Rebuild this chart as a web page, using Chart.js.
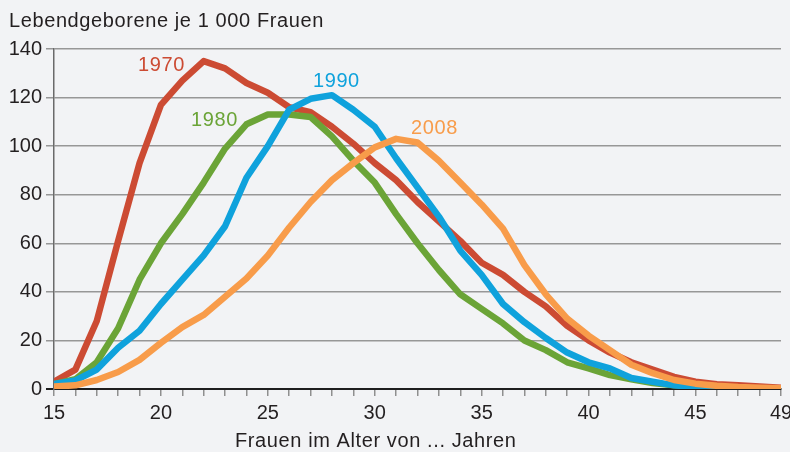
<!DOCTYPE html>
<html>
<head>
<meta charset="utf-8">
<script src="https://cdn.jsdelivr.net/npm/chart.js@4"></script>
<style>
  html, body { margin: 0; background: #f2f3f5; }
  #wrap { width: 790px; height: 452px; }
</style>
</head>
<body>
<div id="wrap"><canvas id="grafik"></canvas></div>
<script>
// Alter der Frauen (x) und Lebendgeborene je 1 000 Frauen (y)
const alter = [15,16,17,18,19,20,21,22,23,24,25,26,27,28,29,30,31,32,33,34,35,36,37,38,39,40,41,42,43,44,45,46,47,48,49];
const j1970 = [3,8,28,61,93,117,127,135,132,126,122,116,114,108,101,93,86,77,69,61,52,47,40,34,26,20,15,11,8,5,3,2,1.5,1,0.5];
const j1980 = [2,4,11,25,45,60,72,85,99,109,113,113,112,104,94,85,72,60,49,39,33,27,20,16,11,8.5,5.7,4,2.5,1.5,1,0.5,0.3,0.2,0.1];
const j1990 = [2,3.5,8,17,24,35,45,55,67,87,100,115,119.5,121,115,108,95,83,71,57,47,35,27.5,21,15,11,8.5,4.5,3,1.5,0.8,0.4,0.2,0.1,0.1];
const j2008 = [1,1.5,3.7,7,12,19,25.5,30.5,38,45.5,55,66.5,77,86,93,99.5,103,101.5,94,85,76,66,51,39,29,22,16,10,6.5,3.7,2.2,1.3,0.8,0.5,0.3];
const xBeschriftet = [15,20,25,30,35,40,45,49];
const jahre = ["1970","1980","1990","2008"];
const farben = ["#cc4b33","#6ba437","#0fa2dc","#f89c4a"];

// wo die Jahreszahlen stehen (Datenkoordinaten: Alter, Wert)
const labelPos = [[18.93,131.1],[21.41,108.5],[27.11,124.5],[31.7,105.2]];

const schrift = "'Liberation Sans', Arial, sans-serif";
const textFarbe = "#231f20";

const extras = {
  id: "extras",
  beforeDraw(chart){
    const c = chart.ctx;
    c.save();
    c.fillStyle = "#f2f3f5";
    c.fillRect(0,0,chart.width,chart.height);
    c.restore();
  },
  afterDraw(chart){
    const c = chart.ctx;
    const x = chart.scales.x, y = chart.scales.y;
    c.save();
    c.textBaseline = "alphabetic";
    c.textAlign = "left";
    c.font = "20px " + schrift;
    c.letterSpacing = "0.6px";
    c.fillStyle = textFarbe;
    c.fillText("Lebendgeborene je 1 000 Frauen", 9, 27);
    c.fillText("Frauen im Alter von ... Jahren", 235, 447);
    jahre.forEach((j,i)=>{
      c.fillStyle = farben[i];
      c.fillText(j, x.getPixelForValue(labelPos[i][0]), y.getPixelForValue(labelPos[i][1]));
    });
    c.restore();
  }
};

const reihen = [j1970, j1980, j1990, j2008];

new Chart(document.getElementById("grafik"), {
  type: "line",
  data: {
    labels: alter,
    datasets: reihen.map((d,i)=>({
      label: jahre[i],
      data: d,
      borderColor: farben[i],
      borderWidth: 6.5,
      pointRadius: 0,
      tension: 0,
      fill: false,
      borderJoinStyle: "round",
      order: 4 - i
    }))
  },
  options: {
    responsive: true,
    maintainAspectRatio: false,
    animation: false,
    layout: { padding: { left: 0, right: 9, top: 49, bottom: 0 } },
    plugins: { legend: { display: false }, tooltip: { enabled: false }, title: { display: false } },
    scales: {
      x: {
        type: "linear",
        min: 15, max: 49,
        afterFit(s){ s.height = 63; s.paddingLeft = 0; s.paddingRight = 0; },
        ticks: {
          stepSize: 1, autoSkip: false, maxRotation: 0, padding: 5,
          color: textFarbe, font: { size: 20, family: schrift },
          callback: v => xBeschriftet.includes(v) ? String(v) : ""
        },
        grid: { drawOnChartArea: false, drawTicks: true, tickLength: 7, color: "#8f8f8f", lineWidth: 1.5 },
        border: { display: true, color: "#1e1e1e", width: 2 }
      },
      y: {
        min: 0, max: 140,
        afterFit(s){ s.width = 54; },
        ticks: { stepSize: 20, padding: 4, color: textFarbe, font: { size: 20, family: schrift } },
        grid: {
          color: c => c.tick && c.tick.value === 0 ? "#1e1e1e" : "#979797",
          lineWidth: c => c.tick && c.tick.value === 0 ? 2 : 1.5,
          tickLength: 8
        },
        border: { display: true, color: "#6a6a6a", width: 1.5 }
      }
    }
  },
  plugins: [extras]
});
</script>
</body>
</html>
